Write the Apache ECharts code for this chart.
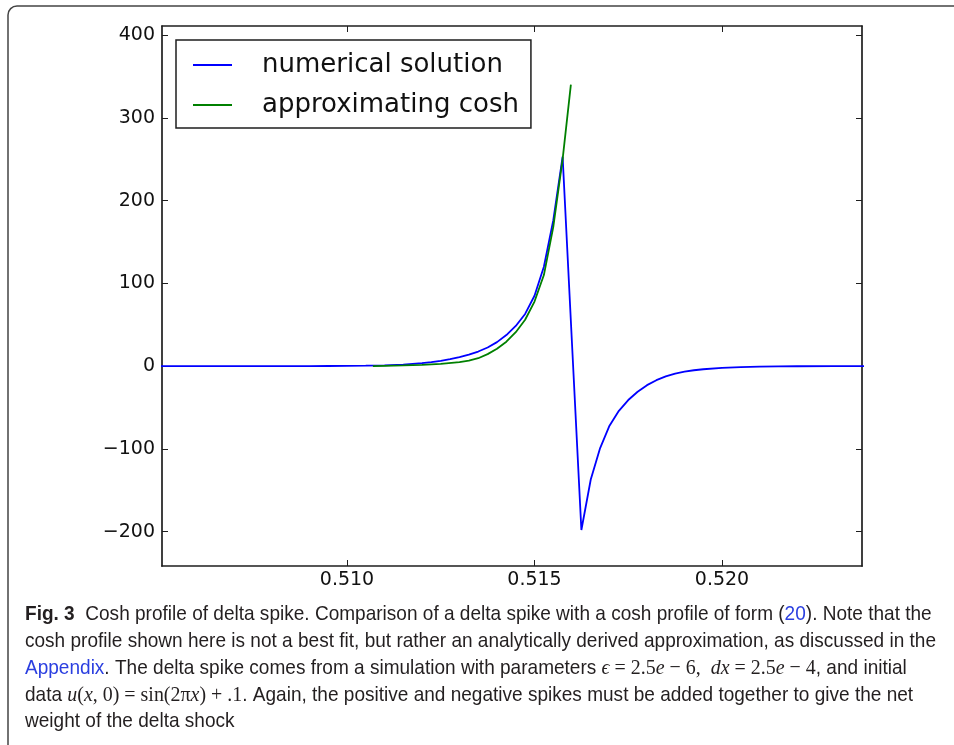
<!DOCTYPE html>
<html><head><meta charset="utf-8">
<script src="https://cdn.jsdelivr.net/npm/echarts@6/dist/echarts.min.js"></script>
<style>html,body{margin:0;padding:0;background:#fff;}#c{width:954px;height:745px;}</style>
</head><body><div id="c"></div>
<script>
// ---- data ----
const seriesNames = ['numerical solution', 'approximating cosh'];
const xTicks = [0.510, 0.515, 0.520];
const yTicks = [-200, -100, 0, 100, 200, 300, 400];
const xRange = [0.505067, 0.523733];
const yRange = [-241.5, 410.9];

const blueX = [0.5050, 0.5090, 0.5095, 0.5100, 0.5105, 0.5110, 0.5115, 0.5120, 0.51225, 0.5125,
  0.51275, 0.5130, 0.51325, 0.5135, 0.51375, 0.5140, 0.51425, 0.5145, 0.51475, 0.5150,
  0.51525, 0.5155, 0.51575, 0.5160, 0.51625, 0.5165, 0.51675, 0.5170, 0.51725, 0.5175,
  0.51775, 0.5180, 0.51825, 0.5185, 0.51875, 0.5190, 0.51925, 0.5195, 0.5200, 0.5205,
  0.5210, 0.5215, 0.5220, 0.5230, 0.5240];
const blueY = [0, 0, 0.1, 0.2, 0.5, 1.0, 1.9, 3.6, 4.8, 6.3,
  8.3, 10.8, 13.8, 17.6, 22.5, 29, 37.5, 48.5, 63, 85,
  120, 176, 253, 27, -198, -137, -99, -72, -54, -41,
  -31, -23, -17, -12.5, -9, -6.8, -5, -3.8, -2.1, -1.2,
  -0.7, -0.4, -0.2, -0.05, 0];

const greenX = [0.51069, 0.5110, 0.5115, 0.5120, 0.5125, 0.5130, 0.51325, 0.5135, 0.51375, 0.5140,
  0.51425, 0.5145, 0.51475, 0.5150, 0.51525, 0.5155, 0.51575, 0.51597];
const greenY = [0, 0.3, 0.8, 1.5, 2.7, 4.8, 6.6, 9.5, 14.5, 21,
  29.5, 41, 56, 78, 110, 168, 250, 340];

const captionLines = [
  '{b|Fig. 3}  Cosh profile of delta spike. Comparison of a delta spike with a cosh profile of form ({l|20}). Note that the',
  'cosh profile shown here is not a best fit, but rather an analytically derived approximation, as discussed in the',
  '{l|Appendix}. The delta spike comes from a simulation with parameters {mi|ϵ}{m| = 2.5}{mi|e}{m| − 6,  }{mi|dx}{m| = 2.5}{mi|e}{m| − 4}, and initial',
  'data {mi|u}{m|(}{mi|x}{m|, 0) = sin(2π}{mi|x}{m|) + .1}. Again, the positive and negative spikes must be added together to give the net',
  'weight of the delta shock'
];

// ---- layout ----
const chart = echarts.init(document.getElementById('c'), null, {renderer: 'canvas'});
const axisColor = '#1e1e1e';
const tickFont = {fontSize: 19, fontFamily: 'DejaVu Sans', color: '#111'};

const ctx = document.createElement('canvas').getContext('2d');
ctx.font = '21px "Liberation Sans"';
const capScale = 911 / ctx.measureText(captionLines[1]).width;
const capY = [614, 641.5, 668, 695, 721.5];

function xAxisDef(pos, labels) {
  return {
    type: 'value', position: pos, min: xRange[0], max: xRange[1],
    axisLine: {show: true, onZero: false, lineStyle: {color: axisColor, width: 1.7}},
    axisTick: {show: true, inside: true, length: 6, customValues: xTicks, lineStyle: {color: axisColor, width: 1}},
    axisLabel: Object.assign({show: labels, customValues: xTicks, margin: 5,
      formatter: v => Number(v).toFixed(3)}, tickFont),
    splitLine: {show: false}
  };
}
function yAxisDef(pos, labels) {
  return {
    type: 'value', position: pos, min: yRange[0], max: yRange[1],
    axisLine: {show: true, onZero: false, lineStyle: {color: axisColor, width: 1.7}},
    axisTick: {show: true, inside: true, length: 6, customValues: yTicks, lineStyle: {color: axisColor, width: 1}},
    axisLabel: Object.assign({show: labels, customValues: yTicks, margin: 7,
      formatter: v => (v < 0 ? '\u2212' + (-v) : String(v))}, tickFont),
    splitLine: {show: false}
  };
}

chart.setOption({
  animation: false,
  backgroundColor: '#fff',
  grid: {left: 162, top: 26, right: 92, bottom: 179, containLabel: false},
  xAxis: [xAxisDef('bottom', true), xAxisDef('top', false)],
  yAxis: [yAxisDef('left', true), yAxisDef('right', false)],
  legend: {
    data: seriesNames, orient: 'vertical', left: 176, top: 40,
    padding: [12, 12, 10, 17], itemGap: 14, itemWidth: 39, itemHeight: 2, icon: 'rect',
    borderColor: axisColor, borderWidth: 1.5, backgroundColor: '#fff', selectedMode: false,
    formatter: n => '{t|' + n + '}',
    textStyle: {rich: {t: {fontSize: 26, fontFamily: 'DejaVu Sans', color: '#111', padding: [0, 0, 0, 25]}}}
  },
  series: [
    {name: seriesNames[0], type: 'line', xAxisIndex: 0, yAxisIndex: 0, symbol: 'none', clip: true,
      color: '#0000ff', lineStyle: {color: '#0000ff', width: 1.8},
      data: blueX.map((x, i) => [x, blueY[i]])},
    {name: seriesNames[1], type: 'line', xAxisIndex: 0, yAxisIndex: 0, symbol: 'none', clip: true,
      color: '#008000', lineStyle: {color: '#008000', width: 1.8},
      data: greenX.map((x, i) => [x, greenY[i]])}
  ],
  graphic: [
    {type: 'rect', silent: true, z: -10,
      shape: {x: 8, y: 6, width: 1000, height: 800, r: 9},
      style: {fill: 'none', stroke: '#444', lineWidth: 1.5}},
    {type: 'group', x: 25, y: 0, scaleX: capScale, silent: true,
      children: captionLines.map((t, i) => ({
        type: 'text', x: 0, y: capY[i],
        style: {
          text: t, fontSize: 21, fontFamily: 'Liberation Sans', fill: '#231f20', verticalAlign: 'middle',
          rich: {
            b: {fontWeight: 'bold', fontSize: 21, fontFamily: 'Liberation Sans', fill: '#231f20'},
            l: {fontSize: 21, fontFamily: 'Liberation Sans', fill: '#2b3fe0'},
            m: {fontSize: 22, fontFamily: 'Liberation Serif', fill: '#231f20'},
            mi: {fontSize: 22, fontStyle: 'italic', fontFamily: 'Liberation Serif', fill: '#231f20'}
          }
        }
      }))}
  ]
});
</script>
</body></html>
